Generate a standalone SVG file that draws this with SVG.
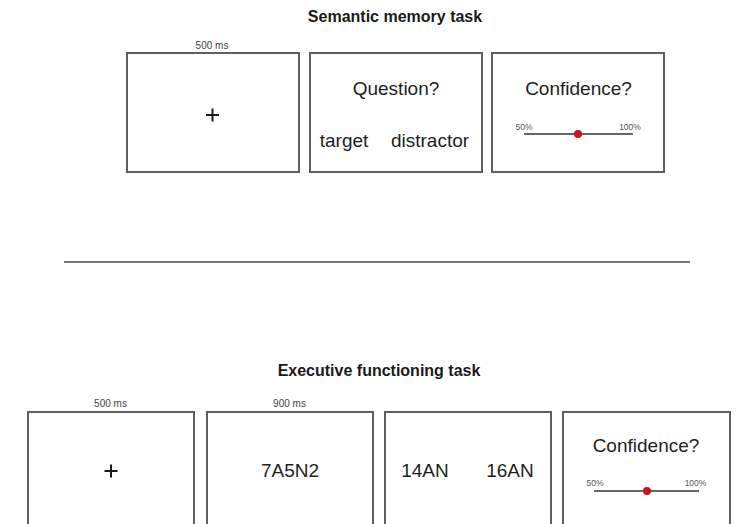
<svg xmlns="http://www.w3.org/2000/svg" width="741" height="524" viewBox="0 0 741 524">
  <style>
    .frame { fill: #ffffff; stroke: #5f5f5f; stroke-width: 2; }
    .title { font-family: "Liberation Sans", Arial, sans-serif; font-weight: bold; font-size: 16px; fill: #1a1a1a; text-anchor: middle; }
    .dur { font-family: "Liberation Sans", Arial, sans-serif; font-size: 10px; fill: #444; text-anchor: middle; }
    .big { font-family: "Liberation Sans", Arial, sans-serif; font-size: 19px; fill: #1e1e1e; text-anchor: middle; }
    .pct { font-family: "Liberation Sans", Arial, sans-serif; font-size: 8.5px; fill: #555; text-anchor: middle; }
    .fix { stroke: #1a1a1a; stroke-width: 2; }
    .track { stroke: #666; stroke-width: 2; }
    .knob { fill: #d0101c; }
    .divider { stroke: #777; stroke-width: 2; }
  </style>

  <!-- Semantic memory task -->
  <text class="title" x="395" y="22">Semantic memory task</text>

  <g id="sem-fixation">
    <text class="dur" x="212" y="49">500 ms</text>
    <rect class="frame" x="127" y="53" width="172" height="119"/>
    <line class="fix" x1="206" y1="115" x2="219" y2="115"/>
    <line class="fix" x1="212.5" y1="108.5" x2="212.5" y2="121.5"/>
  </g>

  <g id="sem-question">
    <rect class="frame" x="310" y="53" width="172" height="119"/>
    <text class="big" x="396" y="95">Question?</text>
    <text class="big" x="344" y="147" font-size="20">target</text>
    <text class="big" x="430" y="147" font-size="20">distractor</text>
  </g>

  <g id="sem-confidence">
    <rect class="frame" x="492" y="53" width="172" height="119"/>
    <text class="big" x="578.5" y="95">Confidence?</text>
    <text class="pct" x="524" y="130">50%</text>
    <text class="pct" x="630" y="130">100%</text>
    <line class="track" x1="524" y1="134" x2="633" y2="134"/>
    <circle class="knob" cx="578" cy="134" r="4"/>
  </g>

  <!-- separator between the two tasks -->
  <line class="divider" x1="64" y1="262" x2="690" y2="262"/>

  <!-- Executive functioning task -->
  <text class="title" x="379" y="376">Executive functioning task</text>

  <g id="exe-fixation">
    <text class="dur" x="110.5" y="407">500 ms</text>
    <rect class="frame" x="28" y="412" width="166" height="130"/>
    <line class="fix" x1="104.5" y1="471" x2="117.5" y2="471"/>
    <line class="fix" x1="111" y1="464.5" x2="111" y2="477.5"/>
  </g>

  <g id="exe-string">
    <text class="dur" x="289.5" y="407">900 ms</text>
    <rect class="frame" x="207" y="412" width="166" height="130"/>
    <text class="big" x="290" y="477">7A5N2</text>
  </g>

  <g id="exe-choice">
    <rect class="frame" x="385" y="412" width="166" height="130"/>
    <text class="big" x="425" y="477">14AN</text>
    <text class="big" x="510" y="477">16AN</text>
  </g>

  <g id="exe-confidence">
    <rect class="frame" x="563" y="412" width="167" height="130"/>
    <text class="big" x="646" y="452">Confidence?</text>
    <text class="pct" x="595" y="486">50%</text>
    <text class="pct" x="695.5" y="486">100%</text>
    <line class="track" x1="594" y1="491" x2="699" y2="491"/>
    <circle class="knob" cx="647" cy="491" r="4"/>
  </g>
</svg>
